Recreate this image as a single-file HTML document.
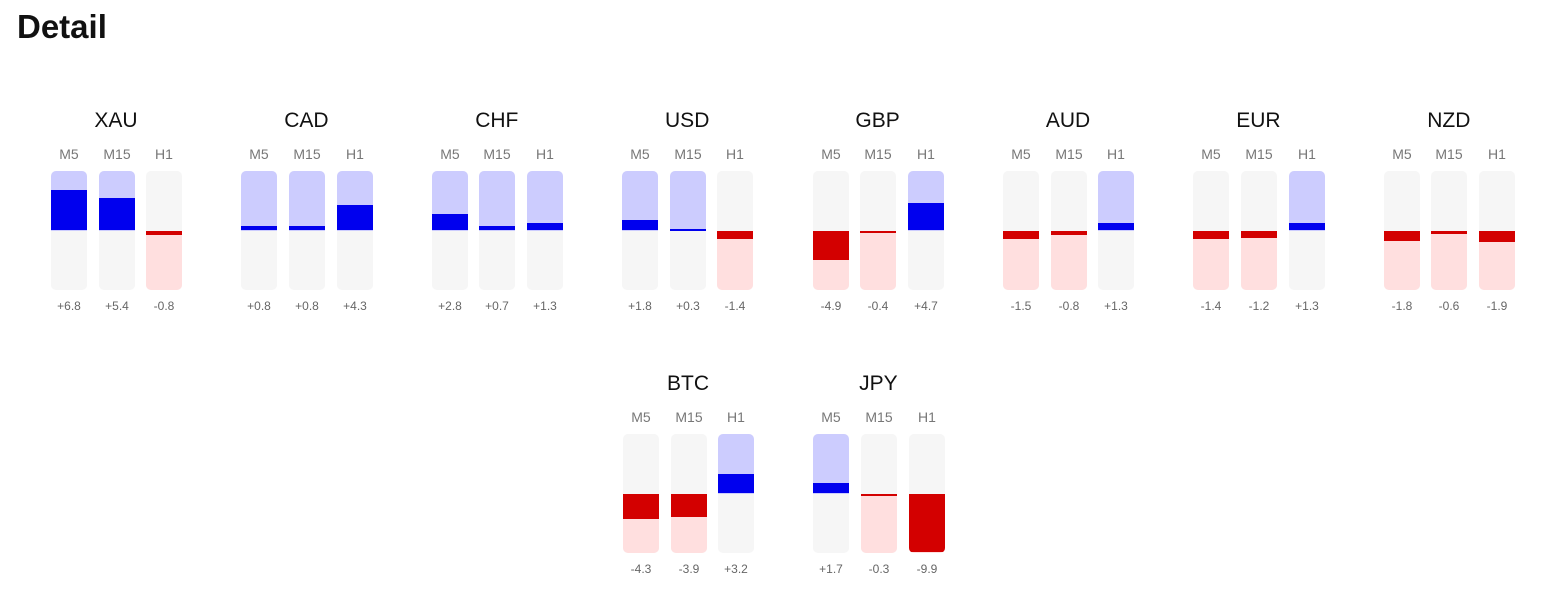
<!DOCTYPE html>
<html><head><style>
body{margin:0;width:1544px;height:611px;background:#fff;font-family:"Liberation Sans","DejaVu Sans",sans-serif;position:relative;overflow:hidden}
h1{position:absolute;left:17px;top:8px;margin:0;font-size:33px;font-weight:bold;color:#111}
.t{position:absolute;width:140px;text-align:center;font-size:21px;color:#111}
.l{position:absolute;width:48px;text-align:center;font-size:14px;color:#777}
.v{position:absolute;width:48px;text-align:center;font-size:12px;color:#666}
.b{position:absolute;width:36px;height:119px;background:#f6f6f6;border-radius:5px;overflow:hidden}
.b div{position:absolute;left:0;width:36px}
</style></head><body>
<h1>Detail</h1>
<div id="c"></div>
<script>
const data=[["XAU",[6.8,5.4,-0.8]],["CAD",[0.8,0.8,4.3]],["CHF",[2.8,0.7,1.3]],["USD",[1.8,0.3,-1.4]],["GBP",[-4.9,-0.4,4.7]],["AUD",[-1.5,-0.8,1.3]],["EUR",[-1.4,-1.2,1.3]],["NZD",[-1.8,-0.6,-1.9]],["BTC",[-4.3,-3.9,3.2]],["JPY",[1.7,-0.3,-9.9]]];
let h="";const labs=["M5","M15","H1"];
data.forEach((d,i)=>{
 let cx,top;
 if(i<8){cx=116+i*190.4;top=0}else{cx=688+(i-8)*190.4;top=263}
 h+=`<div class="t" style="left:${cx-70}px;top:${top+109}px">${d[0]}</div>`;
 d[1].forEach((v,j)=>{
  const x=Math.round(cx-65+j*47.6);
  h+=`<div class="l" style="left:${x-6}px;top:${top+146}px">${labs[j]}</div>`;
  const hh=Math.max(2,Math.abs(v)*5.95);
  let inner="";
  if(v>0){inner=`<div style="top:0;height:59.5px;background:#ccccfe"></div><div style="top:${59.5-hh}px;height:${hh}px;background:#0000ee"></div>`}
  else{inner=`<div style="top:59.5px;height:59.5px;background:#ffdfdf"></div><div style="top:59.5px;height:${hh}px;background:#d30000"></div>`}
  h+=`<div class="b" style="left:${x}px;top:${top+171}px">${inner}</div>`;
  h+=`<div class="v" style="left:${x-6}px;top:${top+299}px">${v>0?"+":""}${v.toFixed(1)}</div>`;
 });
});
document.getElementById("c").innerHTML=h;
</script>
</body></html>
